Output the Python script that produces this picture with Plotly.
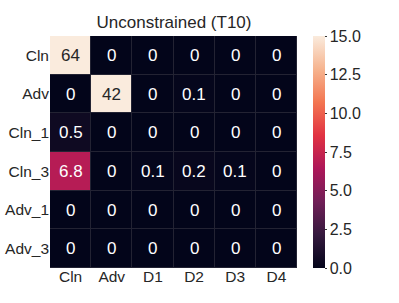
import plotly.graph_objects as go

rows = ["Cln", "Adv", "Cln_1", "Cln_3", "Adv_1", "Adv_3"]
cols = ["Cln", "Adv", "D1", "D2", "D3", "D4"]
values = [
    [64, 0, 0, 0, 0, 0],
    [0, 42, 0, 0.1, 0, 0],
    [0.5, 0, 0, 0, 0, 0],
    [6.8, 0, 0.1, 0.2, 0.1, 0],
    [0, 0, 0, 0, 0, 0],
    [0, 0, 0, 0, 0, 0],
]
title = "Unconstrained (T10)"
zmin, zmax = 0, 15
cbar_ticks = [0, 2.5, 5, 7.5, 10, 12.5, 15]

rocket = [
    [0.0, "#03051a"],
    [1/7, "#35193e"],
    [2/7, "#701f57"],
    [3/7, "#ad1759"],
    [4/7, "#e13342"],
    [5/7, "#f37651"],
    [6/7, "#f6b48f"],
    [1.0, "#faebdd"],
]

FONT = "Liberation Sans, Arial"

def fmt(v):
    return f"{v:.2g}"

fig = go.Figure(go.Heatmap(
    z=values, x=cols, y=rows, zmin=zmin, zmax=zmax, colorscale=rocket,
    xgap=1, ygap=1, hoverinfo="skip",
    colorbar=dict(
        x=(313 - 50) / 247, xanchor="left", xpad=0, y=0.5, yanchor="middle", ypad=0,
        thickness=12, len=232, lenmode="pixels",
        tickvals=cbar_ticks, tickformat=".1f", outlinewidth=0,
        ticks="outside", ticklen=2, tickcolor="#333",
        tickfont=dict(family=FONT, size=16, color="#262626"),
    ),
))

annotations = []
for i, r in enumerate(rows):
    for j, c in enumerate(cols):
        v = values[i][j]
        color = "#262626" if v / zmax > 0.6 else "white"
        annotations.append(dict(
            x=c, y=r, text=fmt(v), showarrow=False,
            font=dict(family=FONT, size=17, color=color),
        ))

fig.update_layout(
    width=399, height=303,
    margin=dict(l=50, r=102, t=36, b=35, autoexpand=False),
    paper_bgcolor="white", plot_bgcolor="#232333",
    title=dict(text=title, x=174 / 399, xanchor="center", y=1 - 22 / 303, yanchor="middle",
               font=dict(family=FONT, size=17, color="#262626")),
    annotations=annotations,
    xaxis=dict(showgrid=False, zeroline=False, ticks="", ticklen=0, automargin=False,
               ticklabelstandoff=-3,
               tickfont=dict(family=FONT, size=15.5, color="#262626")),
    yaxis=dict(showgrid=False, zeroline=False, autorange="reversed", ticks="", automargin=False,
               tickfont=dict(family=FONT, size=15.5, color="#262626")),
)

fig.write_html("out.html", config={"displayModeBar": False},
               post_script="document.body.style.margin='0';")
